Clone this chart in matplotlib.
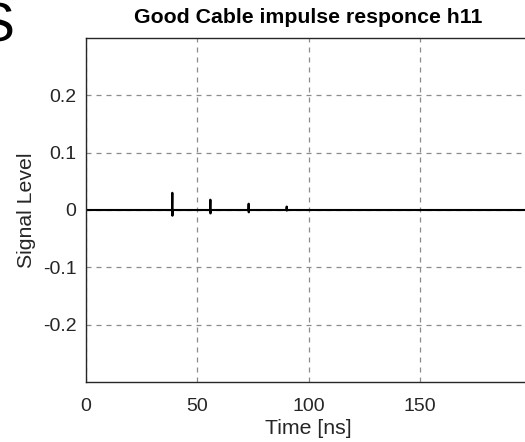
import matplotlib
matplotlib.use("Agg")
import matplotlib.pyplot as plt

plt.rcParams['font.family'] = ['Liberation Sans', 'DejaVu Sans']

# impulse response samples (ns, level): flat line with a few decaying echoes
time_ns = [0, 38.7, 38.8, 38.85, 38.9,
           55.8, 55.9, 55.95, 56.0,
           73.0, 73.1, 73.15, 73.2,
           90.1, 90.2, 90.25, 90.3, 200]
level = [0, 0, 0.030, -0.010, 0,
         0, 0.018, -0.006, 0,
         0, 0.011, -0.004, 0,
         0, 0.006, -0.001, 0, 0]

x_ticks = [0, 50, 100, 150]
y_ticks = [-0.2, -0.1, 0, 0.1, 0.2]
y_tick_labels = ['-0.2', '-0.1', '0', '0.1', '0.2']

fig = plt.figure(figsize=(5.25, 4.42), dpi=100)
ax = fig.add_axes([86 / 525, 60 / 442, 445 / 525, 344 / 442])

ax.plot(time_ns, level, color='black', lw=1.5)

ax.set_xlim(0, 200)
ax.set_ylim(-0.3, 0.3)
ax.set_xticks(x_ticks)
ax.set_yticks(y_ticks)
ax.set_yticklabels(y_tick_labels)
ax.tick_params(length=0, labelsize=14, labelcolor='#262626')
ax.tick_params(axis='x', pad=11.5)
ax.tick_params(axis='y', pad=7)
ax.grid(True, color='#8c8c8c', linestyle=(0, (4, 4)), lw=0.9)
ax.set_axisbelow(True)
for s in ax.spines.values():
    s.set_color('#262626')
    s.set_linewidth(1.0)

ax.set_xlabel('Time [ns]', fontsize=15.3, color='#262626', labelpad=3)
ax.set_ylabel('Signal Level', fontsize=15.3, color='#262626', labelpad=5)
ax.set_title('Good Cable impulse responce h11', fontsize=15.3,
             fontweight='bold', pad=11)

# big letter partly cut off at the top-left corner
fig.text(-0.043, 0.997, 'S', fontsize=40, ha='left', va='top')

fig.savefig('out.png', dpi=100)
